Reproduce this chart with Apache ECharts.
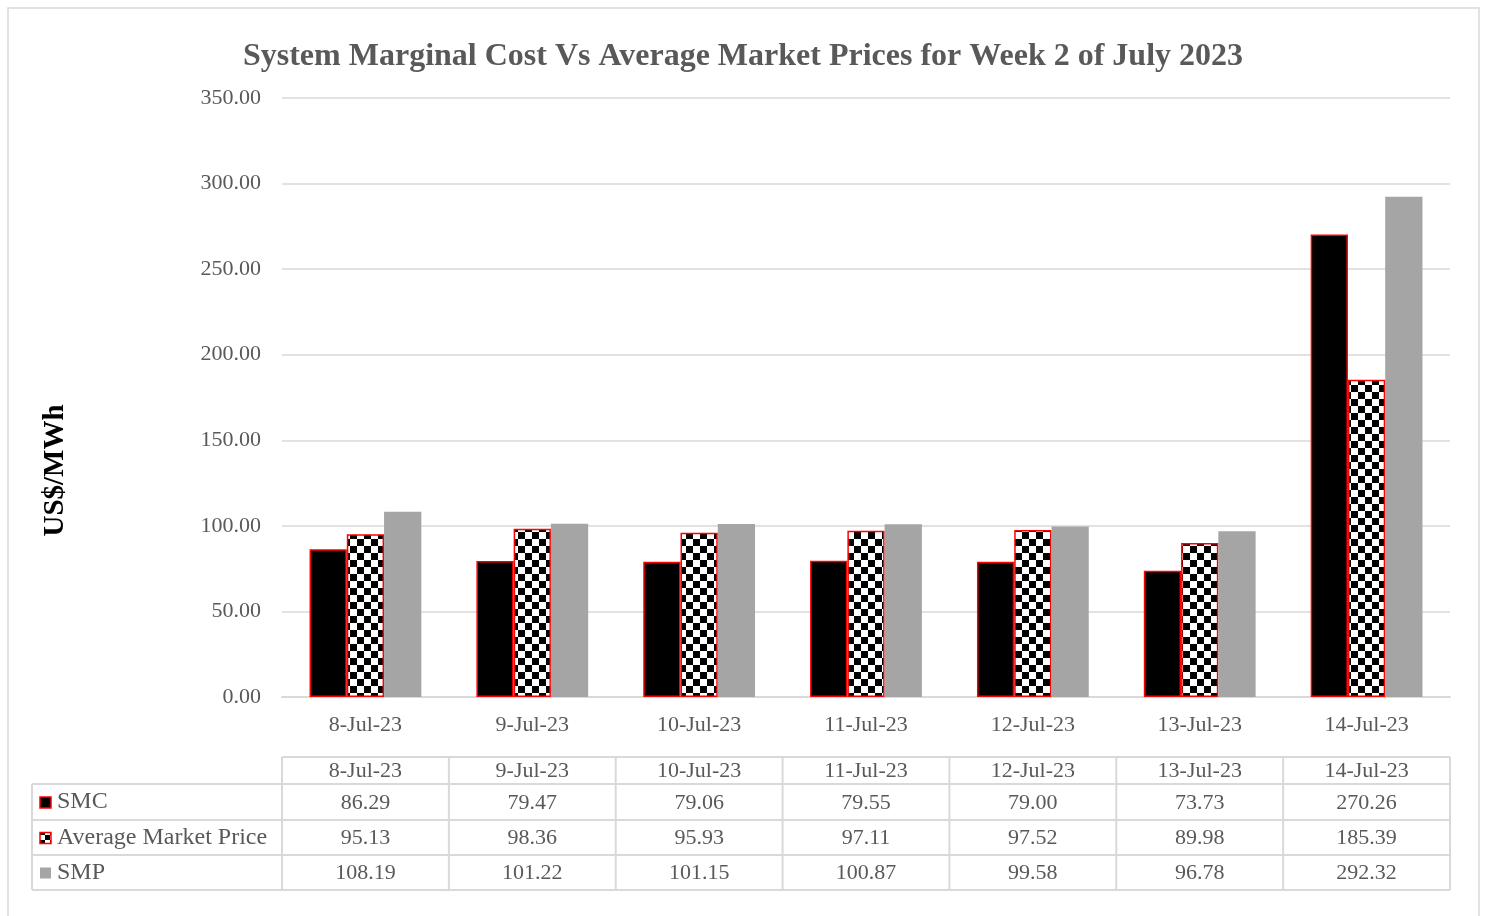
<!DOCTYPE html>
<html>
<head>
<meta charset="utf-8">
<script src="https://cdn.jsdelivr.net/npm/echarts@6/dist/echarts.min.js"></script>
<style>
  html, body { margin: 0; padding: 0; background: #fff; }
  #chart { width: 1486px; height: 916px; }
</style>
</head>
<body>
<div id="chart"></div>
<script>
// data
const categories = ['8-Jul-23', '9-Jul-23', '10-Jul-23', '11-Jul-23', '12-Jul-23', '13-Jul-23', '14-Jul-23'];
const smc = [86.29, 79.47, 79.06, 79.55, 79.00, 73.73, 270.26];
const avgMarketPrice = [95.13, 98.36, 95.93, 97.11, 97.52, 89.98, 185.39];
const smp = [108.19, 101.22, 101.15, 100.87, 99.58, 96.78, 292.32];
const seriesNames = ['SMC', 'Average Market Price', 'SMP'];

const FONT = '"Liberation Serif", "DejaVu Serif", serif';
const GRAY_TEXT = '#595959';
const LINE = '#d9d9d9';

// plot area in pixels
const plotLeft = 282, plotRight = 1450, plotTop = 98, plotBottom = 697;

function checker(size) {
    const c = document.createElement('canvas');
    c.width = size * 2;
    c.height = size * 2;
    const ctx = c.getContext('2d');
    ctx.fillStyle = '#fff';
    ctx.fillRect(0, 0, size * 2, size * 2);
    ctx.fillStyle = '#000';
    ctx.fillRect(0, 0, size, size);
    ctx.fillRect(size, size, size, size);
    return c;
}
const barPattern = { image: checker(7), repeat: 'repeat' };
const keyPattern = { image: checker(5), repeat: 'repeat' };

// data table below the plot, built from the same arrays
function buildTable() {
    const els = [];
    const rows = [smc, avgMarketPrice, smp];
    const colW = (plotRight - plotLeft) / categories.length;
    const rowY = [757, 784, 820, 855, 890];
    const labelLeft = 32;

    // horizontal lines
    els.push({ type: 'line', shape: { x1: plotLeft, y1: rowY[0], x2: plotRight, y2: rowY[0] }, style: { stroke: LINE, lineWidth: 2 } });
    for (let i = 1; i < rowY.length; i++) {
        els.push({ type: 'line', shape: { x1: labelLeft, y1: rowY[i], x2: plotRight, y2: rowY[i] }, style: { stroke: LINE, lineWidth: 2 } });
    }
    // vertical lines
    els.push({ type: 'line', shape: { x1: labelLeft, y1: rowY[1], x2: labelLeft, y2: rowY[4] }, style: { stroke: LINE, lineWidth: 2 } });
    for (let c = 0; c <= categories.length; c++) {
        const x = plotLeft + c * colW;
        els.push({ type: 'line', shape: { x1: x, y1: rowY[0], x2: x, y2: rowY[4] }, style: { stroke: LINE, lineWidth: 2 } });
    }
    // header
    categories.forEach((cat, c) => {
        els.push({
            type: 'text', x: plotLeft + (c + 0.5) * colW, y: (rowY[0] + rowY[1]) / 2 + 1,
            style: { text: cat, fill: GRAY_TEXT, font: '22px ' + FONT, align: 'center', verticalAlign: 'middle' }
        });
    });
    // series rows
    const keys = [
        { fill: '#000', stroke: '#ff0000' },
        { fill: keyPattern, stroke: '#ff0000' },
        { fill: '#a5a5a5', stroke: null }
    ];
    rows.forEach((vals, r) => {
        const cy = (rowY[r + 1] + rowY[r + 2]) / 2;
        els.push({
            type: 'rect', shape: { x: 40, y: cy - 5, width: 11, height: 11 },
            style: { fill: keys[r].fill, stroke: keys[r].stroke, lineWidth: keys[r].stroke ? 1.5 : 0 }
        });
        els.push({
            type: 'text', x: 57, y: cy,
            style: { text: seriesNames[r], fill: GRAY_TEXT, font: '24px ' + FONT, align: 'left', verticalAlign: 'middle' }
        });
        vals.forEach((v, c) => {
            els.push({
                type: 'text', x: plotLeft + (c + 0.5) * colW, y: cy + 1,
                style: { text: v.toFixed(2), fill: GRAY_TEXT, font: '22px ' + FONT, align: 'center', verticalAlign: 'middle' }
            });
        });
    });
    // outer frame
    els.push({ type: 'rect', shape: { x: 8, y: 8, width: 1471, height: 920 }, style: { fill: null, stroke: LINE, lineWidth: 1.5 }, z: -1 });
    return els;
}

const barBase = { type: 'bar', barGap: '0%', barCategoryGap: '33%' };

const option = {
    backgroundColor: '#fff',
    animation: false,
    title: {
        text: 'System Marginal Cost Vs Average Market Prices for Week 2 of July 2023',
        left: 'center',
        top: 36,
        textStyle: { fontFamily: FONT, fontSize: 32, fontWeight: 'bold', color: GRAY_TEXT }
    },
    grid: { left: plotLeft, right: 1486 - plotRight, top: plotTop, bottom: 916 - plotBottom, containLabel: false },
    xAxis: {
        type: 'category',
        data: categories,
        axisLine: { lineStyle: { color: LINE, width: 2 } },
        axisTick: { show: false },
        axisLabel: { color: GRAY_TEXT, fontFamily: FONT, fontSize: 22, margin: 17 }
    },
    yAxis: {
        type: 'value',
        min: 0,
        max: 350,
        interval: 50,
        name: 'US$/MWh',
        nameLocation: 'middle',
        nameGap: 212,
        nameRotate: 90,
        nameTextStyle: { fontFamily: FONT, fontSize: 29, fontWeight: 'bold', color: '#000', padding: [0, 146, 0, 0] },
        axisLine: { show: false },
        axisTick: { show: false },
        axisLabel: { color: GRAY_TEXT, fontFamily: FONT, fontSize: 22, margin: 21, formatter: v => v.toFixed(2) },
        splitLine: { lineStyle: { color: LINE, width: 1.5 } }
    },
    series: [
        Object.assign({}, barBase, { name: seriesNames[0], data: smc, itemStyle: { color: '#000', borderColor: '#ff0000', borderWidth: 1.5 } }),
        Object.assign({}, barBase, { name: seriesNames[1], data: avgMarketPrice, itemStyle: { color: barPattern, borderColor: '#ff0000', borderWidth: 1.5 } }),
        Object.assign({}, barBase, { name: seriesNames[2], data: smp, itemStyle: { color: '#a5a5a5' } })
    ],
    graphic: buildTable()
};

const chart = echarts.init(document.getElementById('chart'));
chart.setOption(option);
</script>
</body>
</html>
